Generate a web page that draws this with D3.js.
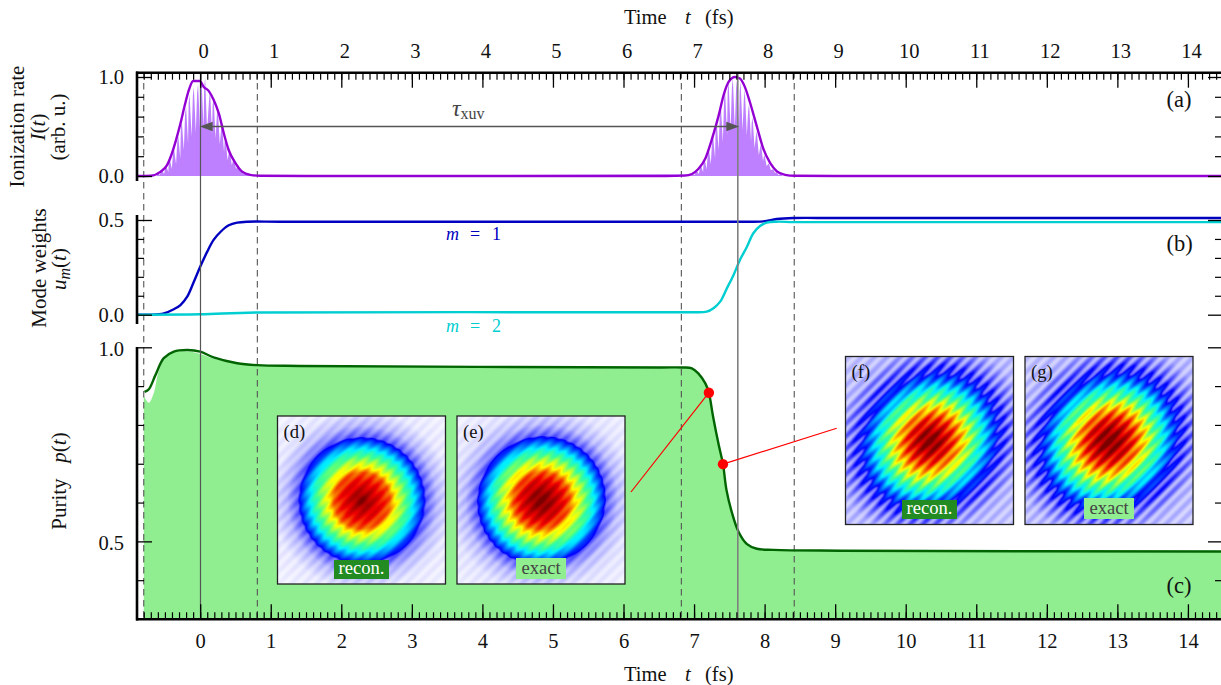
<!DOCTYPE html>
<html>
<head>
<meta charset="utf-8">
<style>
  html, body { margin: 0; padding: 0; background: #fff; overflow: hidden; }
  text { font-family: "Liberation Serif", serif; fill: #111; }
  .i { font-style: italic; }
</style>
<script src="https://cdn.jsdelivr.net/npm/d3@7/dist/d3.min.js"></script>
</head>
<body>
<div id="svg"></div>
<script>
// ionization rate envelope (panel a)
var rateT = [-0.89,-0.70,-0.56,-0.47,-0.40,-0.336,-0.28,-0.218,-0.16,-0.10,-0.005,0.05,0.12,0.19,0.265,0.335,0.405,0.50,0.595,0.71,0.85,1.5,
  6.6,6.87,6.97,7.06,7.16,7.25,7.35,7.42,7.49,7.58,7.65,7.72,7.79,7.89,7.98,8.08,8.17,8.29,8.43,9,14.5];
var rateV = [0,0.003,0.044,0.11,0.23,0.38,0.53,0.717,0.87,0.96,0.96,0.90,0.86,0.77,0.63,0.43,0.26,0.13,0.044,0.012,0.003,0,
  0,0.004,0.02,0.07,0.177,0.365,0.615,0.82,0.95,1.0,0.985,0.90,0.75,0.50,0.28,0.13,0.05,0.012,0.002,0,0];

// fast oscillation under the envelope: crest time, crest height, following trough height
var spikeT = [-0.60,-0.54,-0.48,-0.43,-0.37,-0.31,-0.26,-0.20,-0.15,-0.09,-0.03,0.02,0.07,0.14,0.19,0.25,0.31,0.36,0.42,0.48,0.54,0.59,0.65,0.71,
  6.98,7.04,7.10,7.15,7.21,7.27,7.32,7.38,7.44,7.49,7.55,7.61,7.66,7.72,7.78,7.83,7.89,7.95,8.00,8.06,8.12,8.17,8.23];
var spikeTop = [0.03,0.06,0.10,0.17,0.27,0.40,0.55,0.70,0.82,0.90,0.93,0.96,0.99,0.86,0.79,0.68,0.52,0.38,0.26,0.17,0.11,0.06,0.03,0.015,
  0.02,0.05,0.10,0.17,0.27,0.41,0.56,0.72,0.86,0.95,0.99,0.99,0.95,0.87,0.73,0.59,0.45,0.32,0.21,0.13,0.07,0.04,0.02];
var spikeLow = [0.01,0.02,0.04,0.07,0.12,0.18,0.26,0.33,0.40,0.44,0.46,0.48,0.46,0.42,0.38,0.32,0.24,0.16,0.11,0.07,0.04,0.02,0.01,0,
  0.01,0.02,0.04,0.07,0.12,0.18,0.26,0.34,0.41,0.46,0.48,0.48,0.46,0.41,0.35,0.28,0.21,0.15,0.10,0.06,0.03,0.01,0];

// mode weights (panel b)
var m1T = [-0.89,-0.70,-0.515,-0.374,-0.28,-0.184,-0.09,0,0.10,0.19,0.29,0.405,0.524,0.666,1.14,4,7.0,7.6,7.98,8.17,8.41,9,11,14.5];
var m1V = [0,0,0.007,0.029,0.051,0.095,0.174,0.253,0.333,0.395,0.438,0.472,0.486,0.491,0.491,0.491,0.491,0.491,0.493,0.505,0.5105,0.5105,0.5105,0.5105];
var m2T = [-0.89,0,0.8,6.945,7.18,7.275,7.37,7.465,7.56,7.65,7.75,7.84,7.935,8.03,8.17,8.41,9,14.5];
var m2V = [0,0.002,0.012,0.0127,0.016,0.034,0.069,0.139,0.21,0.289,0.359,0.43,0.468,0.486,0.491,0.489,0.489,0.489];

// purity (panel c)
var purT = [-0.789,-0.728,-0.633,-0.516,-0.374,-0.184,0,0.19,0.524,0.807,1.42,6.52,6.83,6.97,7.06,7.16,7.21,7.27,7.35,7.41,7.46,7.54,7.63,7.75,7.89,8.125,9.07,14.5];
var purV = [0.885,0.892,0.929,0.972,0.989,0.993,0.989,0.974,0.959,0.954,0.952,0.948,0.948,0.946,0.933,0.907,0.883,0.821,0.748,0.699,0.632,0.572,0.525,0.493,0.481,0.478,0.476,0.474];
var exactT = [-0.80,-0.728,-0.66,-0.59,-0.496,-0.374,-0.184,0,0.19,0.524,0.807,1.42,6.52,6.83,6.97,7.06,7.16,7.21,7.27,7.35,7.41,7.46,7.54,7.63,7.75,7.89,8.125,9.07,14.5];
var exactV = [0.875,0.857,0.881,0.937,0.972,0.987,0.989,0.983,0.971,0.958,0.953,0.951,0.947,0.947,0.945,0.932,0.906,0.882,0.820,0.747,0.698,0.631,0.571,0.524,0.492,0.480,0.477,0.475,0.473];

// marked times and red points
var dashedT = [-0.8,0.81,6.82,8.42];
var solidT = [0,7.62];
var dotT = [7.21,7.41];
var dotP = [0.883,0.699];

// ticks
var timeTicks = d3.range(0,15);
var timeMinor = d3.range(-8,146).map(i => i/10);
var rateTicks = [0,1], rateMinor = [0.2,0.4,0.6,0.8];
var weightTicks = [0,0.5], weightMinor = [0.1,0.2,0.3,0.4];
var purTicks = [0.5,1], purMinor = [0.4,0.6,0.7,0.8,0.9];

// inset images: intensity against distance from the centre, read along radii
var insetRadius = [0,8,20,28,33,42,48,56,64,75,90,130];
var insetD = [1,0.93,0.85,0.78,0.66,0.54,0.44,0.26,0.07,0.03,0.01,0.003];
var insetE = [1,0.96,0.87,0.78,0.67,0.55,0.45,0.26,0.07,0.03,0.012,0.003];
var insetF = [1,0.95,0.83,0.72,0.64,0.50,0.40,0.24,0.105,0.06,0.03,0.02];
var insetG = [1,0.96,0.85,0.74,0.66,0.51,0.42,0.25,0.11,0.06,0.03,0.02];
// stripe strength at the same radii
var stripeD = [0.03,0.03,0.03,0.03,0.03,0.03,0.03,0.03,0.012,0.007,0.004,0.002];
var stripeE = [0.035,0.035,0.035,0.035,0.035,0.035,0.035,0.03,0.012,0.008,0.004,0.002];
var stripeF = [0.06,0.07,0.07,0.07,0.07,0.07,0.07,0.07,0.05,0.03,0.012,0.007];
var stripeG = [0.06,0.07,0.07,0.07,0.07,0.07,0.07,0.07,0.05,0.03,0.012,0.007];
// one period of the diagonal stripes
var stripeWave = [1,0.7,0,-0.7,-1,-0.7,0,0.7];

var colourStops = [0,0.11,0.36,0.5,0.65,0.86,1];
var colourNames = ['#ffffff','#0000ff','#00f0ff','#40ff90','#ffff00','#f00000','#7a0000'];

const w = 1221, h = 685;
const svg = d3.select('#svg').append('svg')
              .attr('width', w).attr('height', h)
              .style('display', 'block');

var x = d3.scaleLinear().domain([-0.89,14.5]).range([137.4,1223.2]);
var yA = d3.scaleLinear().domain([0,1]).range([176,77]);
var yB = d3.scaleLinear().domain([0,0.5]).range([314.7,220]);
var yC = d3.scaleLinear().domain([0.3,1]).range([619,347.3]);

const zip = (a,b) => a.map((d,i) => [d,b[i]]);
const smooth = d3.curveCatmullRom.alpha(0.5);

// ---- panel c fill first, everything else on top
svg.append('path')
   .attr('d', d3.area().x(d => x(d[0])).y0(yC(0.3)).y1(d => yC(d[1])).curve(smooth)(zip(exactT,exactV)))
   .attr('fill', '#90ee90');

// fast oscillation
var spikes = [];
spikeT.forEach((t,i) => {
  spikes.push([t-0.014, spikeTop[i]*0.9]);
  spikes.push([t, spikeTop[i]]);
  spikes.push([t+0.028, spikeLow[i]]);
});
svg.append('path')
   .attr('d', d3.area().x(d => x(d[0])).y0(yA(0)).y1(d => yA(d[1]))(spikes))
   .attr('fill', '#bf80ff');

// marker lines
dashedT.forEach(t => {
  svg.append('line').attr('x1', x(t)).attr('x2', x(t)).attr('y1', 72).attr('y2', 619)
     .attr('stroke', '#555').attr('stroke-width', 1.1).attr('stroke-dasharray', '6.5 4.5');
});

function drawLine(data, y, colour, curve) {
  svg.append('path')
     .attr('d', d3.line().x(d => x(d[0])).y(d => y(d[1])).curve(curve)(data))
     .attr('fill', 'none').attr('stroke', colour).attr('stroke-width', 2.4);
}
drawLine(zip(rateT,rateV), yA, '#9400d3', d3.curveMonotoneX);
drawLine(zip(m1T,m1V), yB, '#0000c0', smooth);
drawLine(zip(m2T,m2V), yB, '#00ced1', smooth);
drawLine(zip(purT,purV), yC, '#006400', smooth);

svg.append('line').attr('x1', x(solidT[0])+0.3).attr('x2', x(solidT[0])+0.3).attr('y1', 72).attr('y2', 619)
   .attr('stroke', '#555').attr('stroke-width', 1.2);
svg.append('line').attr('x1', x(solidT[1])).attr('x2', x(solidT[1])).attr('y1', 72).attr('y2', 619)
   .attr('stroke', '#808080').attr('stroke-width', 1.6);

// delay arrow
var ay = yA(0.5);
svg.append('line').attr('x1', x(solidT[0])+8).attr('x2', x(solidT[1])-8).attr('y1', ay).attr('y2', ay)
   .attr('stroke', '#555').attr('stroke-width', 1.3);
svg.append('path').attr('fill', '#555')
   .attr('d', `M${x(solidT[0])-0.5},${ay}l13,-4.8v9.6z M${x(solidT[1])+1.5},${ay}l-13,-4.8v9.6z`);
var tau = svg.append('text').attr('x', 452).attr('y', 116).style('font-size', '24px').attr('fill', '#444');
tau.append('tspan').attr('class', 'i').style('fill', '#444').text('τ');
tau.append('tspan').attr('dy', 3).style('font-size', '16px').style('fill', '#444').text('xuv');

// red connectors and points
var redLines = [[0, 631, 492], [1, 836.7, 428.3]];
redLines.forEach(r => {
  svg.append('line')
     .attr('x1', x(dotT[r[0]])).attr('y1', yC(dotP[r[0]]))
     .attr('x2', r[1]).attr('y2', r[2])
     .attr('stroke', '#ff0000').attr('stroke-width', 1.2);
});
svg.selectAll('circle.dot').data(zip(dotT,dotP)).enter().append('circle')
   .attr('class', 'dot').attr('r', 5.2)
   .attr('cx', d => x(d[0])).attr('cy', d => yC(d[1]))
   .attr('fill', '#ff0000');

// ---- inset images
var colour = d3.scaleLinear().domain(colourStops).range(colourNames).clamp(true);
var stripeAt = d3.scaleLinear().domain(stripeWave.map((d,i) => i/stripeWave.length).concat([1]))
                 .range(stripeWave.concat([stripeWave[0]]));

function insetImage(levels, stripes, stretch, period) {
  var size = 168;
  var cv = document.createElement('canvas');
  cv.width = size; cv.height = size;
  var ctx = cv.getContext('2d');
  var img = ctx.createImageData(size, size);
  var level = d3.scaleLinear().domain(insetRadius).range(levels).clamp(true);
  var amp = d3.scaleLinear().domain(insetRadius).range(stripes).clamp(true);
  for (var j = 0; j < size; j++) {
    for (var i = 0; i < size; i++) {
      var dx = i - size/2, dy = j - size/2;
      var along = (dx - dy) * Math.SQRT1_2, across = (dx + dy) * Math.SQRT1_2;
      var r = Math.hypot(along / stretch, across);
      var phase = ((dx + dy) / period % 1 + 1) % 1;
      var c = d3.rgb(colour(level(r) + amp(r) * stripeAt(phase)));
      var k = (j * size + i) * 4;
      img.data[k] = c.r; img.data[k+1] = c.g; img.data[k+2] = c.b; img.data[k+3] = 255;
    }
  }
  ctx.putImageData(img, 0, 0);
  return cv.toDataURL();
}

var insets = [
  {name:'(d)', x:277.5, y:416, levels:insetD, stripes:stripeD, stretch:1, tag:'recon.', tagX:334, tagY:560, tagW:55, tagH:19},
  {name:'(e)', x:457, y:416, levels:insetE, stripes:stripeE, stretch:1.03, tag:'exact', tagX:516, tagY:558, tagW:50, tagH:21},
  {name:'(f)', x:845.5, y:356.5, levels:insetF, stripes:stripeF, stretch:1.13, tag:'recon.', tagX:902, tagY:500, tagW:55, tagH:19},
  {name:'(g)', x:1025, y:356.5, levels:insetG, stripes:stripeG, stretch:1.13, tag:'exact', tagX:1084, tagY:498, tagW:50, tagH:21}
];
insets.forEach(p => {
  svg.append('image').attr('href', insetImage(p.levels, p.stripes, p.stretch, 12.7))
     .attr('x', p.x).attr('y', p.y).attr('width', 168).attr('height', 168);
  svg.append('rect').attr('x', p.x).attr('y', p.y).attr('width', 168).attr('height', 168)
     .attr('fill', 'none').attr('stroke', '#222').attr('stroke-width', 1.3);
  svg.append('text').attr('x', p.x+6).attr('y', p.y+21.5).style('font-size', '18.6px').text(p.name);
  var recon = p.tag == 'recon.';
  svg.append('rect').attr('x', p.tagX).attr('y', p.tagY).attr('width', p.tagW).attr('height', p.tagH)
     .attr('fill', recon ? '#228b22' : '#90ee90');
  svg.append('text').attr('x', p.tagX + p.tagW/2).attr('y', p.tagY + p.tagH - 5)
     .attr('text-anchor', 'middle').style('font-size', '18.6px')
     .style('fill', recon ? '#fff' : '#444').text(p.tag);
});

// ---- axes
function tidy(g, width) {
  g.select('.domain').remove();
  g.selectAll('line').attr('stroke', '#000').attr('stroke-width', width);
}
function xAxis(make, y, labelY, shift) {
  svg.append('g').attr('transform', `translate(0,${y})`)
     .call(make(x).tickValues(timeMinor).tickSize(7).tickFormat(''))
     .call(g => tidy(g, 1.2));
  svg.append('g').attr('transform', `translate(0,${y})`)
     .call(make(x).tickValues(timeTicks).tickSize(15).tickFormat(d3.format('d')))
     .call(g => tidy(g, 1.3))
     .call(g => g.selectAll('text').attr('y', labelY - y).attr('dy', 0).attr('dx', shift)
                 .style('font-size', '20.5px').style('font-family', '"Liberation Serif", serif').attr('fill', '#111'));
}
xAxis(d3.axisBottom, 72.7, 58, 3);
xAxis(d3.axisTop, 619.3, 648, 0);

function yAxis(y, major, minor, top, bottom, dy) {
  // left side, ticks pointing in
  svg.append('g').attr('transform', 'translate(137,0)')
     .call(d3.axisRight(y).tickValues(minor).tickSize(7).tickFormat(''))
     .call(g => tidy(g, 1.2));
  svg.append('g').attr('transform', 'translate(137,0)')
     .call(d3.axisRight(y).tickValues(major).tickSize(15).tickFormat(d3.format('.1f')))
     .call(g => tidy(g, 1.3))
     .call(g => g.selectAll('text').attr('x', -13).attr('dy', 0)
                 .attr('transform', `translate(0,${dy})`).attr('text-anchor', 'end')
                 .style('font-size', '20.5px').style('font-family', '"Liberation Serif", serif').attr('fill', '#111'));
  // right side runs off the page
  svg.append('g').attr('transform', 'translate(1222,0)')
     .call(d3.axisLeft(y).tickValues(minor).tickSize(7).tickFormat(''))
     .call(g => tidy(g, 1.2));
  svg.append('g').attr('transform', 'translate(1222,0)')
     .call(d3.axisLeft(y).tickValues(major).tickSize(14).tickFormat(''))
     .call(g => tidy(g, 1.3));
  svg.append('line').attr('x1', 137).attr('x2', 137).attr('y1', top).attr('y2', bottom)
     .attr('stroke', '#000').attr('stroke-width', 2.6);
}
yAxis(yA, rateTicks, rateMinor, 71.5, 181, 6.5);
yAxis(yB, weightTicks, weightMinor, 215, 324, 6.8);
yAxis(yC, purTicks, purMinor, 347, 620.5, 7.8);

svg.append('line').attr('x1', 136).attr('x2', w).attr('y1', 72.7).attr('y2', 72.7).attr('stroke', '#000').attr('stroke-width', 2.6);
svg.append('line').attr('x1', 136).attr('x2', w).attr('y1', 619.3).attr('y2', 619.3).attr('stroke', '#000').attr('stroke-width', 2.6);

// ---- titles
[[24],[681]].forEach(b => {
  var t = svg.append('text').attr('y', b[0]).style('font-size', '20.5px');
  t.append('tspan').attr('x', 624).text('Time');
  t.append('tspan').attr('x', 685).attr('class', 'i').text('t');
  t.append('tspan').attr('x', 705).text('(fs)');
});

function yLabel(px, py, parts) {
  var t = svg.append('text').attr('transform', `translate(${px},${py}) rotate(-90)`)
             .attr('text-anchor', 'middle').style('font-size', '21px');
  parts.forEach(p => {
    var s = t.append('tspan').text(p[0]);
    if (p[1]) s.attr('class', 'i');
    if (p[2]) s.attr('dy', p[2]);
    if (p[3]) s.style('font-size', p[3]);
  });
}
yLabel(24, 126.5, [['Ionization rate']]);
yLabel(45, 127, [['I',1],['('],['t',1],[')']]);
yLabel(65, 127, [['(arb. u.)']]);
yLabel(46, 268, [['Mode weights']]);
yLabel(66, 269, [['u',1],['m',1,4,'16px'],['(',0,-4],['t',1],[')']]);
yLabel(66, 481, [['Purity\u00a0\u00a0\u00a0'],['p',1],['('],['t',1],[')']]);

[['(a)',107],['(b)',251],['(c)',593]].forEach(d => {
  svg.append('text').attr('x', 1166.5).attr('y', d[1]).style('font-size', '22.5px').text(d[0]);
});

function modeLabel(py, colour, n) {
  var t = svg.append('text').attr('y', py).style('font-size', '18px');
  t.append('tspan').attr('x', 446).attr('class', 'i').style('fill', colour).text('m');
  t.append('tspan').attr('x', 470).style('fill', colour).text('=');
  t.append('tspan').attr('x', 492).style('fill', colour).text(n);
}
modeLabel(240, '#0000c0', 1);
modeLabel(332, '#00ced1', 2);
</script>
</body>
</html>
